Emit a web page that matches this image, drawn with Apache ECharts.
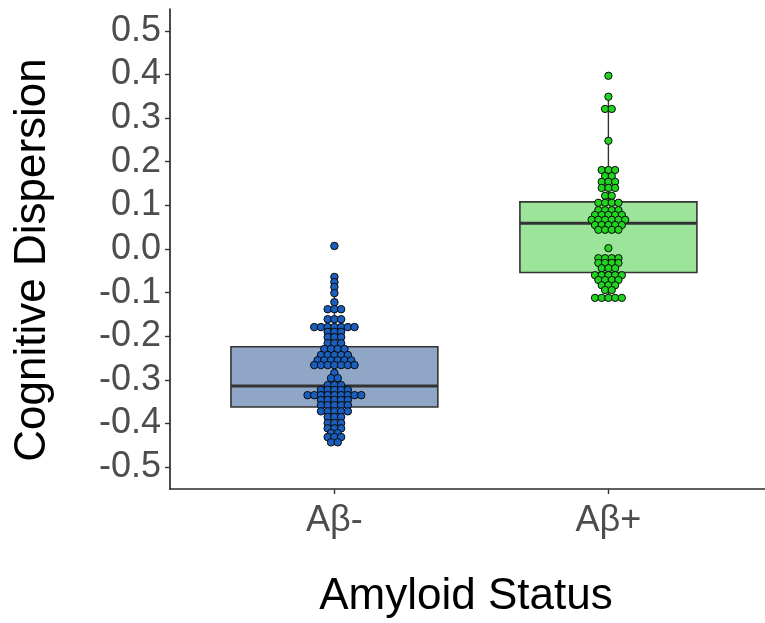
<!DOCTYPE html>
<html>
<head>
<meta charset="utf-8">
<script src="https://cdn.jsdelivr.net/npm/echarts@6/dist/echarts.min.js"></script>
<style>
  html, body { margin: 0; padding: 0; background: #fff; }
  #chart { width: 765px; height: 623px; }
</style>
</head>
<body>
<div id="chart"></div>
<script>
// ---------------- data ----------------
const categories = ['Aβ-', 'Aβ+'];
const categoryPositions = [1, 2];
const yTicks = [-0.5, -0.4, -0.3, -0.2, -0.1, 0.0, 0.1, 0.2, 0.3, 0.4, 0.5];

// box statistics per group (Aβ-, Aβ+)
const boxQ1 = [-0.362, -0.054];
const boxMedian = [-0.314, 0.059];
const boxQ3 = [-0.224, 0.108];
const whiskerLow = [-0.443, -0.112];
const whiskerHigh = [-0.064, 0.349];

// dot-plot bins: bin centre value and number of stacked dots
const negBinValues = [0.007, -0.064, -0.076, -0.087, -0.101, -0.122, -0.138, -0.161, -0.179,
  -0.190, -0.202, -0.216, -0.229, -0.243, -0.255, -0.266, -0.284, -0.296, -0.312, -0.323,
  -0.335, -0.346, -0.358, -0.372, -0.385, -0.399, -0.411, -0.422, -0.431, -0.443];
const negBinCounts = [1, 1, 1, 1, 1, 1, 3, 3, 7,
  3, 3, 3, 4, 5, 6, 7, 1, 2, 3, 5,
  9, 5, 5, 5, 3, 3, 3, 2, 3, 2];

const posBinValues = [0.397, 0.349, 0.321, 0.248, 0.181, 0.167, 0.154, 0.140, 0.122, 0.106,
  0.089, 0.078, 0.067, 0.055, 0.044, 0.002, -0.021, -0.032, -0.044, -0.060, -0.071,
  -0.083, -0.094, -0.112];
const posBinCounts = [1, 1, 2, 1, 3, 2, 3, 3, 2, 4,
  4, 5, 6, 5, 4, 1, 4, 4, 3, 5, 4,
  3, 2, 5];

// ---------------- styling / layout ----------------
const boxWidths = [0.755, 0.646];      // in x-axis units
const boxFills = ['#8fa6c7', '#9de49b'];
const dotFills = ['#1a5fbd', '#20d420'];
const dotStep = 0.0245;                 // horizontal stacking step, x-axis units
const FONT = "'Liberation Sans', Arial, Helvetica, sans-serif";

function stackDots(center, values, counts) {
  const out = [];
  values.forEach((v, r) => {
    const n = counts[r];
    for (let i = 0; i < n; i++) {
      out.push([center + (i - (n - 1) / 2) * dotStep, v]);
    }
  });
  return out;
}

const boxData = categoryPositions.map((c, i) =>
  [c, boxQ1[i], boxMedian[i], boxQ3[i], whiskerLow[i], whiskerHigh[i]]);

const chart = echarts.init(document.getElementById('chart'), null, { renderer: 'canvas' });

const option = {
  animation: false,
  backgroundColor: '#ffffff',
  grid: { left: 170, right: 0, top: 9, bottom: 134, containLabel: false },
  xAxis: {
    type: 'value',
    min: 0.4,
    max: 2.5715,
    axisLine: { show: true, onZero: false, lineStyle: { color: '#2b2b2b', width: 1.7 } },
    axisTick: { show: true, customValues: categoryPositions, length: 5, lineStyle: { color: '#333', width: 1.4 } },
    axisLabel: {
      show: true,
      customValues: categoryPositions,
      formatter: v => categories[categoryPositions.indexOf(Math.round(v))] || '',
      fontSize: 36, fontFamily: FONT, color: '#4d4d4d', margin: 14
    },
    splitLine: { show: false }
  },
  yAxis: {
    type: 'value',
    min: -0.55,
    max: 0.55,
    axisLine: { show: true, onZero: false, lineStyle: { color: '#2b2b2b', width: 1.7 } },
    axisTick: { show: true, customValues: yTicks, length: 5, lineStyle: { color: '#333', width: 1.4 } },
    axisLabel: {
      show: true,
      customValues: yTicks,
      formatter: v => (Math.abs(v) < 1e-9 ? 0 : v).toFixed(1),
      fontSize: 36, fontFamily: FONT, color: '#4d4d4d', margin: 9
    },
    splitLine: { show: false }
  },
  graphic: [
    {
      type: 'text', x: 33, y: 260, rotation: Math.PI / 2,
      style: { text: 'Cognitive Dispersion', font: '44px ' + FONT, fill: '#000',
               textAlign: 'center', textVerticalAlign: 'middle' }
    },
    {
      type: 'text', x: 466, y: 597,
      style: { text: 'Amyloid Status', font: '44px ' + FONT, fill: '#000',
               textAlign: 'center', textVerticalAlign: 'middle' }
    }
  ],
  series: [
    {
      type: 'custom',
      z: 2,
      data: boxData,
      encode: { x: 0, y: [1, 2, 3, 4, 5] },
      renderItem: function (params, api) {
        const i = params.dataIndex;
        const x = api.value(0), q1 = api.value(1), med = api.value(2), q3 = api.value(3);
        const lo = api.value(4), hi = api.value(5);
        const w = boxWidths[i];
        const tl = api.coord([x - w / 2, q3]);
        const br = api.coord([x + w / 2, q1]);
        const mL = api.coord([x - w / 2, med]);
        const mR = api.coord([x + w / 2, med]);
        const pHi = api.coord([x, hi]);
        const pQ3 = api.coord([x, q3]);
        const pQ1 = api.coord([x, q1]);
        const pLo = api.coord([x, lo]);
        const stroke = '#333333';
        return {
          type: 'group',
          children: [
            { type: 'line', shape: { x1: pHi[0], y1: pHi[1], x2: pQ3[0], y2: pQ3[1] },
              style: { stroke: stroke, lineWidth: 1.4 } },
            { type: 'line', shape: { x1: pQ1[0], y1: pQ1[1], x2: pLo[0], y2: pLo[1] },
              style: { stroke: stroke, lineWidth: 1.4 } },
            { type: 'rect', shape: { x: tl[0], y: tl[1], width: br[0] - tl[0], height: br[1] - tl[1] },
              style: { fill: boxFills[i], stroke: stroke, lineWidth: 1.6 } },
            { type: 'line', shape: { x1: mL[0], y1: mL[1], x2: mR[0], y2: mR[1] },
              style: { stroke: stroke, lineWidth: 3.2 } }
          ]
        };
      }
    },
    {
      type: 'scatter',
      z: 5,
      symbol: 'circle',
      symbolSize: 7.5,
      data: stackDots(categoryPositions[0], negBinValues, negBinCounts),
      itemStyle: { color: dotFills[0], borderColor: '#0a0a0a', borderWidth: 1, opacity: 1 },
      emphasis: { disabled: true }
    },
    {
      type: 'scatter',
      z: 5,
      symbol: 'circle',
      symbolSize: 7.3,
      data: stackDots(categoryPositions[1], posBinValues, posBinCounts),
      itemStyle: { color: dotFills[1], borderColor: '#0a0a0a', borderWidth: 1, opacity: 1 },
      emphasis: { disabled: true }
    }
  ]
};

chart.setOption(option);
</script>
</body>
</html>
